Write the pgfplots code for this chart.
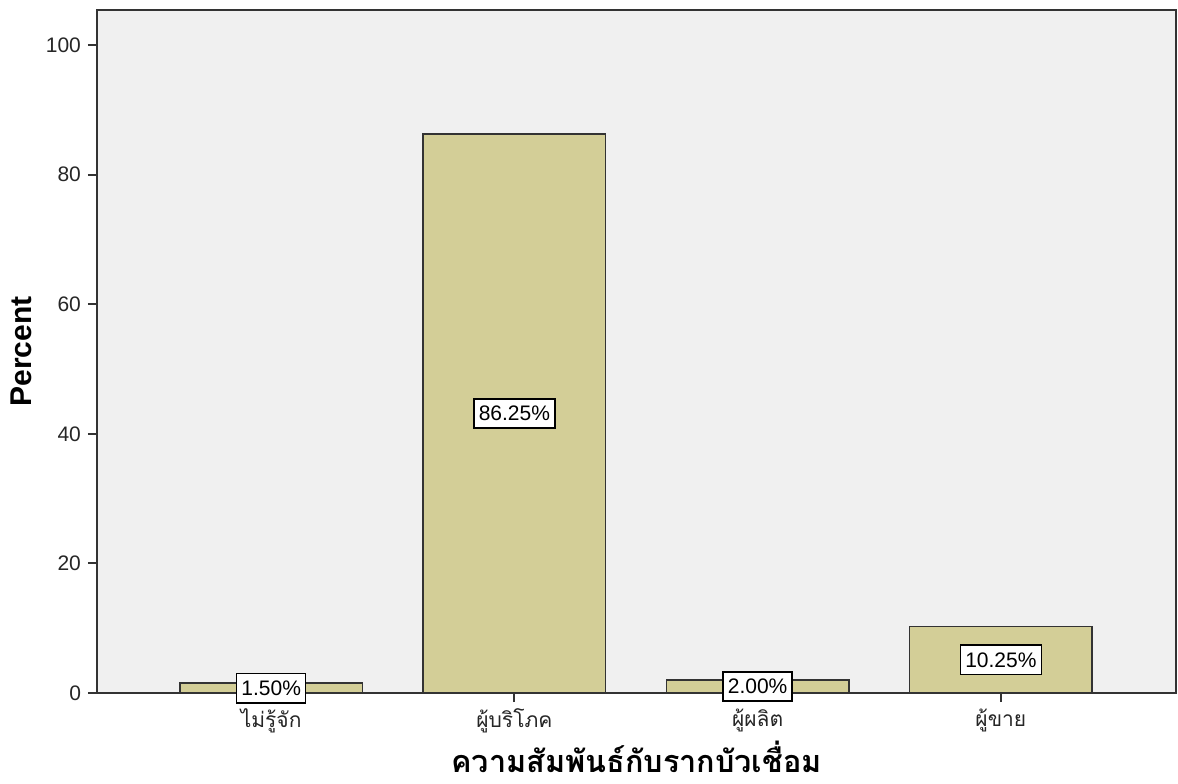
\documentclass[border=0pt]{standalone}
\usepackage{fontspec}
\setmainfont{Liberation Sans}
\newfontfamily\thaifont[Script=Thai]{Loma}
\usepackage{pgfplots}
\pgfplotsset{compat=1.18}
\definecolor{bggray}{HTML}{F0F0F0}
\definecolor{barfill}{HTML}{D3CE97}
\definecolor{edge}{HTML}{333333}
\begin{document}
\begin{tikzpicture}
\path[use as bounding box] (0,0) rectangle (589pt,391.5pt);
\begin{axis}[
  at={(48.5pt,45pt)}, anchor=south west,
  scale only axis, width=539.5pt, height=341.5pt,
  xmin=-0.716, xmax=3.72, ymin=0, ymax=105.4,
  axis background/.style={fill=bggray},
  axis line style={edge, line width=1pt},
  xtick={0,1,2,3},
  xticklabels={{\thaifont ไม่รู้จัก},{\thaifont ผู้บริโภค},{\thaifont ผู้ผลิต},{\thaifont ผู้ขาย}},
  ytick={0,20,40,60,80,100},
  tick align=outside, major tick length=4.5pt,
  tick style={edge, line width=1pt},
  xtick pos=bottom, ytick pos=left,
  ticklabel style={font=\fontsize{10.5pt}{12pt}\selectfont, text=black!85},
  /pgf/number format/assume math mode=true,
  xlabel={\thaifont\bfseries ความสัมพันธ์กับรากบัวเชื่อม},
  xlabel style={at={(axis description cs:0.5,-0.094)}, anchor=center, inner sep=0pt, font=\fontsize{15.3pt}{18pt}\selectfont},
  ylabel={\bfseries Percent},
  ylabel style={at={(axis description cs:-0.0705,0.5)}, anchor=center, font=\fontsize{15pt}{18pt}\selectfont},
  clip=false,
]
\addplot[ybar, bar width=0.75, fill=barfill, draw=edge, line width=0.8pt]
  coordinates {(0,1.50) (1,86.25) (2,2.00) (3,10.25)};
\addplot[only marks, mark=none, point meta=explicit symbolic,
  nodes near coords, nodes near coords align={center},
  every node near coord/.style={anchor=center, fill=white, draw=black, line width=0.75pt, inner xsep=2.4pt, inner ysep=3.6pt, font=\fontsize{10.5pt}{12pt}\selectfont}]
  coordinates {(0,0.75)[1.50\%] (1,43.125)[86.25\%] (2,1.00)[2.00\%] (3,5.125)[10.25\%]};
\end{axis}
\end{tikzpicture}
\end{document}
